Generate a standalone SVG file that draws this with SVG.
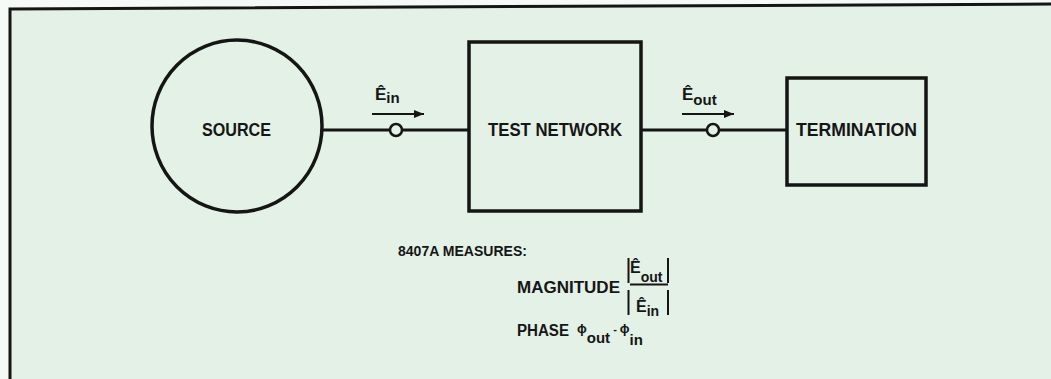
<svg xmlns="http://www.w3.org/2000/svg" width="1051" height="379" viewBox="0 0 1051 379">
<defs>
<style>
.ln{stroke:#151515;stroke-width:3;fill:none}
.nd{stroke:#151515;stroke-width:3.5;fill:none}
.t{font-family:"Liberation Sans",Arial,sans-serif;font-weight:bold;fill:#161616}
</style>
<marker id="ah" viewBox="0 0 10 8" refX="10" refY="4" markerWidth="10" markerHeight="8" markerUnits="userSpaceOnUse" orient="auto">
<path d="M0,0 L10,4 L0,8 Z" fill="#151515"/>
</marker>
</defs>
<rect x="0" y="0" width="1051" height="379" fill="#f6faf7"/>
<path d="M10,379 L10,9 L1051,4 L1051,379 Z" fill="#e3f1e6"/>
<path d="M10,379 L10,9 L1051,4" fill="none" stroke="#151515" stroke-width="3"/>
<g id="connectors">
<line class="ln" x1="322" y1="130" x2="469" y2="130"/>
<line class="ln" x1="641" y1="130" x2="787" y2="130"/>
<circle cx="396" cy="130" r="6" fill="#e3f1e6" stroke="#151515" stroke-width="2.5"/>
<circle cx="713" cy="130" r="6" fill="#e3f1e6" stroke="#151515" stroke-width="2.5"/>
<line x1="372" y1="114" x2="424" y2="114" stroke="#151515" stroke-width="2" marker-end="url(#ah)"/>
<line x1="682" y1="114" x2="734" y2="114" stroke="#151515" stroke-width="2" marker-end="url(#ah)"/>
<text class="t" x="375" y="100" font-size="17">Ê<tspan font-size="15" dy="3">in</tspan></text>
<text class="t" x="682" y="100" font-size="17">Ê<tspan font-size="15" dy="5">out</tspan></text>
</g>
<g id="source">
<ellipse class="nd" cx="237" cy="126" rx="85" ry="86"/>
<text class="t" x="202" y="136" font-size="17.5" textLength="69" lengthAdjust="spacingAndGlyphs">SOURCE</text>
</g>
<g id="test-network">
<rect class="nd" x="469" y="42" width="172" height="169"/>
<text class="t" x="488" y="136" font-size="17.5" textLength="134" lengthAdjust="spacingAndGlyphs">TEST NETWORK</text>
</g>
<g id="termination">
<rect class="nd" x="787" y="78" width="139" height="107"/>
<text class="t" x="796" y="136" font-size="17.5" textLength="121" lengthAdjust="spacingAndGlyphs">TERMINATION</text>
</g>
<g id="measures">
<text class="t" x="398" y="256" font-size="15.5" textLength="129" lengthAdjust="spacingAndGlyphs">8407A MEASURES:</text>
<text class="t" x="517" y="293" font-size="17" textLength="103" lengthAdjust="spacingAndGlyphs">MAGNITUDE</text>
<line x1="628.5" y1="258" x2="628.5" y2="283" stroke="#151515" stroke-width="2"/>
<line x1="668" y1="258" x2="668" y2="283" stroke="#151515" stroke-width="2"/>
<line x1="630" y1="284.5" x2="668" y2="284.5" stroke="#151515" stroke-width="2"/>
<text class="t" x="630" y="273" font-size="16">Ê<tspan font-size="14" dy="9">out</tspan></text>
<line x1="628.5" y1="290" x2="628.5" y2="315" stroke="#151515" stroke-width="2"/>
<line x1="668" y1="290" x2="668" y2="315" stroke="#151515" stroke-width="2"/>
<text class="t" x="636" y="312" font-size="16">Ê<tspan font-size="14" dy="4">in</tspan></text>
<text class="t" x="517" y="336" font-size="16" textLength="52" lengthAdjust="spacingAndGlyphs">PHASE</text>
<text class="t" x="577" y="333" font-size="13">ϕ<tspan font-size="15" dy="10">out</tspan><tspan font-size="11" dy="-10"> - </tspan><tspan font-size="13">ϕ</tspan><tspan font-size="15" dy="12">in</tspan></text>
</g>
</svg>
